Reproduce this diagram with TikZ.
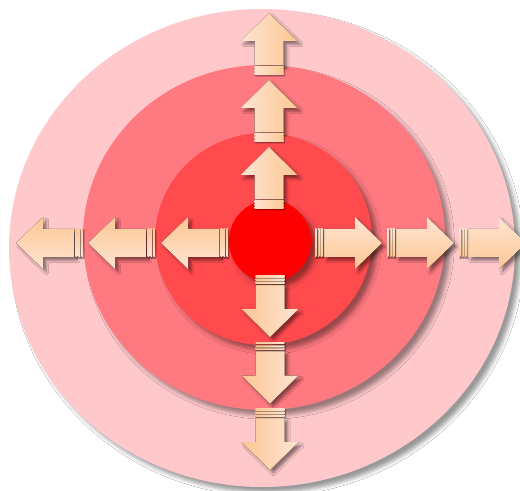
\documentclass[tikz,border=0pt]{standalone}
\usetikzlibrary{shadows.blur}
\definecolor{outerc}{HTML}{FFC9CC}
\definecolor{middlec}{HTML}{FF7A80}
\definecolor{innerc}{HTML}{FF4B4E}
\definecolor{corec}{HTML}{FF0000}
\definecolor{alight}{HTML}{FEE4D2}
\definecolor{adark}{HTML}{FCC794}
\tikzset{
  ringshadow/.style={blur shadow={shadow xshift=4pt, shadow yshift=-4pt, shadow blur radius=3pt, shadow opacity=40}},
  arrshadow/.style={blur shadow={shadow xshift=2.5pt, shadow yshift=-2.5pt, shadow blur radius=1.8pt, shadow opacity=45}},
  stripeshadow/.style={blur shadow={shadow xshift=0.7pt, shadow yshift=-0.9pt, shadow blur radius=0.5pt, shadow opacity=50}},
}
% vertical arrow: x, tip y, sign (+1 up, -1 down), left colour, right colour
\newcommand\varrow[5]{%
  \fill[arrshadow, left color=#4, right color=#5]
    ({#1},{#2}) -- ({#1+28.5},{#2+#3*28}) -- ({#1+14.5},{#2+#3*28}) -- ({#1+14.5},{#2+#3*52.5})
    -- ({#1-14.5},{#2+#3*52.5}) -- ({#1-14.5},{#2+#3*28}) -- ({#1-28.5},{#2+#3*28}) -- cycle;
  \fill[stripeshadow, left color=#4, right color=#5] ({#1-14.5},{#2+#3*53.8}) rectangle ({#1+14.5},{#2+#3*55.6});
  \fill[stripeshadow, left color=#4, right color=#5] ({#1-14.5},{#2+#3*57.0}) rectangle ({#1+14.5},{#2+#3*58.4});
  \fill[stripeshadow, left color=#4, right color=#5] ({#1-14.5},{#2+#3*60.0}) rectangle ({#1+14.5},{#2+#3*61.4});
}
% horizontal arrow: tip x, y, sign (+1 left, -1 right), top colour, bottom colour
\newcommand\harrow[5]{%
  \fill[arrshadow, top color=#4, bottom color=#5]
    ({#1},{#2}) -- ({#1+#3*27},{#2-26}) -- ({#1+#3*27},{#2-14}) -- ({#1+#3*58.3},{#2-14})
    -- ({#1+#3*58.3},{#2+14}) -- ({#1+#3*27},{#2+14}) -- ({#1+#3*27},{#2+26}) -- cycle;
  \fill[stripeshadow, top color=#4, bottom color=#5] ({#1+#3*59.5},{#2-14}) rectangle ({#1+#3*61.3},{#2+14});
  \fill[stripeshadow, top color=#4, bottom color=#5] ({#1+#3*62.7},{#2-14}) rectangle ({#1+#3*64.1},{#2+14});
  \fill[stripeshadow, top color=#4, bottom color=#5] ({#1+#3*65.4},{#2-14}) rectangle ({#1+#3*66.8},{#2+14});
}
\begin{document}
\begin{tikzpicture}[x=0.75pt,y=-0.75pt]
\useasboundingbox (0,0) rectangle (520,491);
\clip (0,0) rectangle (520,491);
\fill[white] (0,0) rectangle (520,491);
% rings
\fill[ringshadow, outerc] (262,248) ellipse [x radius=189.75pt, y radius=179.25pt];
\fill[ringshadow, middlec] (264,237.5) ellipse [x radius=135.75pt, y radius=129.4pt];
\fill[ringshadow, innerc] (263.5,239) ellipse [x radius=81.4pt, y radius=79.5pt];
\fill[ringshadow, corec] (270,241) circle [radius=30.75pt];
% up arrows
\varrow{269}{13}{1}{alight}{adark}
\varrow{269}{80}{1}{alight}{adark}
\varrow{269}{147}{1}{alight}{adark}
% down arrows
\varrow{270}{337}{-1}{adark}{alight}
\varrow{270}{403.5}{-1}{adark}{alight}
\varrow{270}{470}{-1}{adark}{alight}
% left arrows
\harrow{16}{243}{1}{adark}{alight}
\harrow{88}{243}{1}{adark}{alight}
\harrow{161}{243}{1}{adark}{alight}
% right arrows
\harrow{382}{243}{-1}{alight}{adark}
\harrow{454}{243}{-1}{alight}{adark}
\harrow{526}{243}{-1}{alight}{adark}
\end{tikzpicture}
\end{document}
